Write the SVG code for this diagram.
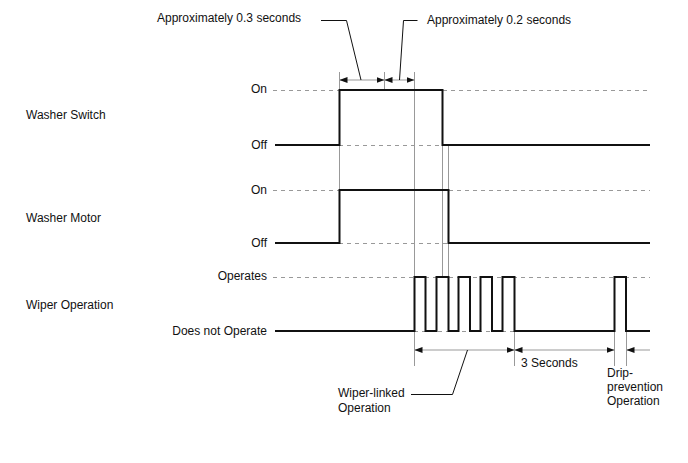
<svg xmlns="http://www.w3.org/2000/svg" width="688" height="463" viewBox="0 0 688 463">
<defs>
<style>
text{font-family:"Liberation Sans",Arial,sans-serif;font-size:12px;fill:#111}
.r{text-anchor:end}
.sig{fill:none;stroke:#111;stroke-width:2}
.dash{fill:none;stroke:#999;stroke-width:1;stroke-dasharray:4 4}
.guide{fill:none;stroke:#999;stroke-width:1}
.dim{fill:none;stroke:#999;stroke-width:1}
.lead{fill:none;stroke:#111;stroke-width:1}
</style>
<marker id="ah" viewBox="0 0 8 6" refX="8" refY="3" markerWidth="8" markerHeight="6" markerUnits="userSpaceOnUse" orient="auto-start-reverse">
<path d="M0,0 L8,3 L0,6 Z" fill="#111"/>
</marker>
</defs>
<rect width="688" height="463" fill="#fff"/>

<g id="guides">
<path class="guide" d="M339.5,72 V243 M384.5,72 V90 M414.5,72 V366 M442.5,90 V277 M448.5,145 V277 M514.5,331 V366 M614.5,331 V366 M626.5,331 V366"/>
</g>

<g id="washer-switch">
<text x="26" y="119">Washer Switch</text>
<text class="r" x="267" y="93">On</text>
<text class="r" x="267" y="149">Off</text>
<path class="dash" d="M273,90.5 H339 M443,90.5 H650 M339,145.5 H443"/>
<path class="sig" d="M275,145 H339.5 V90 H442.5 V145 H650"/>
</g>

<g id="washer-motor">
<text x="26" y="222">Washer Motor</text>
<text class="r" x="267" y="194">On</text>
<text class="r" x="267" y="247">Off</text>
<path class="dash" d="M273,190.5 H339 M449,190.5 H650 M339,243.5 H449"/>
<path class="sig" d="M275,243 H339.5 V190 H448.5 V243 H650"/>
</g>

<g id="wiper-operation">
<text x="26" y="309">Wiper Operation</text>
<text class="r" x="267" y="280">Operates</text>
<text class="r" x="267" y="335">Does not Operate</text>
<path class="dash" d="M273,277.5 H650 M414,331.5 H514"/>
<path class="sig" d="M275,331 H414.5 V277 H425.5 V331 H436.5 V277 H448.5 V331 H458.5 V277 H470 V331 H480.5 V277 H492 V331 H502.5 V277 H514.5 V331 H614.5 V277 H626 V331 H650"/>
</g>

<g id="connectors">
<path class="dim" d="M339.5,80 H384.5" marker-start="url(#ah)" marker-end="url(#ah)"/>
<path class="dim" d="M384.5,80 H414.5" marker-start="url(#ah)" marker-end="url(#ah)"/>
<path class="dim" d="M414.5,350 H514.5" marker-start="url(#ah)" marker-end="url(#ah)"/>
<path class="dim" d="M514.5,350 H614.5" marker-start="url(#ah)" marker-end="url(#ah)"/>
<path class="dim" d="M650,350 H626.5" marker-end="url(#ah)"/>
<path class="lead" d="M321,20.5 H346.5 L361,80"/>
<path class="lead" d="M417.5,20.5 H403.5 L399.5,80"/>
<path class="lead" d="M411,394.5 H452.5 L467.5,350"/>
</g>

<g id="labels">
<text x="157" y="22">Approximately 0.3 seconds</text>
<text x="427" y="24">Approximately 0.2 seconds</text>
<text x="338" y="397">Wiper-linked</text>
<text x="338" y="412">Operation</text>
<text x="521" y="367">3 Seconds</text>
<text x="607" y="377">Drip-</text>
<text x="607" y="391">prevention</text>
<text x="607" y="405">Operation</text>
</g>
</svg>
